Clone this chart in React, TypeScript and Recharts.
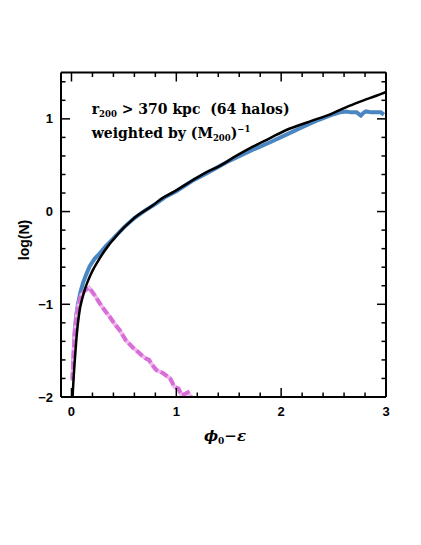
import React from "react";
import { ComposedChart, Line, XAxis, YAxis } from "recharts";

// fitted curve (black)
const fitX = [0.01, 0.02, 0.03, 0.045, 0.06, 0.08, 0.1, 0.13, 0.16, 0.2, 0.25, 0.3, 0.35, 0.4, 0.46, 0.54, 0.62, 0.7, 0.78, 0.86, 0.94, 1.03, 1.16, 1.28, 1.41, 1.57, 1.73, 1.89, 2.05, 2.27, 2.49, 2.65, 2.81, 2.98, 3.0];
const fitY = [-2.0, -1.8, -1.63, -1.4, -1.22, -1.05, -0.95, -0.83, -0.74, -0.64, -0.54, -0.45, -0.37, -0.3, -0.22, -0.13, -0.05, 0.01, 0.07, 0.14, 0.19, 0.25, 0.34, 0.42, 0.49, 0.6, 0.7, 0.79, 0.88, 0.97, 1.06, 1.14, 1.21, 1.28, 1.29];

// all halos (blue)
const allX = [0.01, 0.02, 0.03, 0.045, 0.063, 0.085, 0.11, 0.14, 0.174, 0.22, 0.27, 0.33, 0.4, 0.5, 0.6, 0.7, 0.8, 0.9, 1.0, 1.15, 1.3, 1.51, 1.73, 1.9, 2.05, 2.2, 2.36, 2.5, 2.56, 2.62, 2.67, 2.72, 2.76, 2.79, 2.81, 2.86, 2.91, 2.95, 2.98];
const allY = [-1.8, -1.55, -1.3, -1.12, -0.99, -0.87, -0.77, -0.68, -0.59, -0.51, -0.45, -0.37, -0.29, -0.17, -0.07, 0.01, 0.08, 0.16, 0.22, 0.33, 0.42, 0.55, 0.667, 0.75, 0.83, 0.91, 0.99, 1.05, 1.07, 1.08, 1.07, 1.07, 1.035, 1.07, 1.08, 1.07, 1.07, 1.07, 1.045];

// subset (magenta, dashed)
const subX = [0.01, 0.02, 0.03, 0.045, 0.063, 0.08, 0.095, 0.13, 0.168, 0.22, 0.27, 0.32, 0.365, 0.41, 0.46, 0.52, 0.58, 0.63, 0.68, 0.71, 0.74, 0.76, 0.81, 0.87, 0.94, 0.96, 0.98, 1.02, 1.05, 1.08, 1.11, 1.14];
const subY = [-1.82, -1.55, -1.35, -1.15, -1.03, -0.95, -0.9, -0.85, -0.82, -0.9, -0.99, -1.07, -1.135, -1.21, -1.28, -1.39, -1.46, -1.51, -1.56, -1.585, -1.6, -1.64, -1.71, -1.74, -1.8, -1.84, -1.89, -1.91, -1.98, -1.97, -1.95, -2.0];

const xTicks = [0, 0.2, 0.4, 0.6, 0.8, 1, 1.2, 1.4, 1.6, 1.8, 2, 2.2, 2.4, 2.6, 2.8, 3];
const yTicks = [-2, -1.8, -1.6, -1.4, -1.2, -1, -0.8, -0.6, -0.4, -0.2, 0, 0.2, 0.4, 0.6, 0.8, 1, 1.2, 1.4];

const zip = (xs: number[], ys: number[]) => xs.map((x, i) => ({ x, y: ys[i] }));
const fitData = zip(fitX, fitY);
const allData = zip(allX, allY);
const subData = zip(subX, subY);

const labelFont = "'Liberation Sans', Arial, sans-serif";
const serif = "'DejaVu Serif', serif";

const isMajor = (v: number) => Math.abs(v - Math.round(v)) < 1e-6;
const fmt = (v: number) => (v < 0 ? "\u2212" + Math.abs(Math.round(v)) : String(Math.round(v)));

const makeTick = (side: string) => (props: any) => {
  const { x, y, payload } = props;
  const v = payload.value;
  const len = isMajor(v) ? 9 : 4.5;
  let line;
  if (side === "bottom") line = <line x1={x} x2={x} y1={y} y2={y - len} stroke="#000" strokeWidth={1.5} />;
  else if (side === "top") line = <line x1={x} x2={x} y1={y} y2={y + len} stroke="#000" strokeWidth={1.5} />;
  else if (side === "left") line = <line x1={x} x2={x + len} y1={y} y2={y} stroke="#000" strokeWidth={1.5} />;
  else line = <line x1={x} x2={x - len} y1={y} y2={y} stroke="#000" strokeWidth={1.5} />;
  let label = null;
  if (isMajor(v) && side === "bottom") {
    label = (
      <text x={x} y={y + 19} textAnchor="middle" fontFamily={labelFont} fontWeight="bold" fontSize={13} fill="#000">
        {fmt(v)}
      </text>
    );
  }
  if (isMajor(v) && side === "left") {
    label = (
      <text x={x - 8} y={y + 4.5} textAnchor="end" fontFamily={labelFont} fontWeight="bold" fontSize={13} fill="#000">
        {fmt(v)}
      </text>
    );
  }
  return (
    <g>
      {line}
      {label}
    </g>
  );
};

export default function App() {
  return (
    <div style={{ position: "relative", width: 413, height: 537 }}>
      <ComposedChart width={413} height={537} margin={{ top: 63.5, right: 34, bottom: 118, left: 23 }}>
        <XAxis xAxisId="b" type="number" dataKey="x" domain={[-0.1, 3]} allowDataOverflow ticks={xTicks} interval={0}
          orientation="bottom" height={30} tickSize={0} tickMargin={0} tickLine={false}
          axisLine={{ stroke: "#000", strokeWidth: 2 }} tick={makeTick("bottom")} />
        <XAxis xAxisId="t" type="number" dataKey="x" domain={[-0.1, 3]} allowDataOverflow ticks={xTicks} interval={0}
          orientation="top" height={1} tickSize={0} tickMargin={0} tickLine={false}
          axisLine={{ stroke: "#000", strokeWidth: 2 }} tick={makeTick("top")} />
        <YAxis yAxisId="l" type="number" dataKey="y" domain={[-2, 1.5]} allowDataOverflow ticks={yTicks} interval={0}
          orientation="left" width={30} tickSize={0} tickMargin={0} tickLine={false}
          axisLine={{ stroke: "#000", strokeWidth: 2 }} tick={makeTick("left")} />
        <YAxis yAxisId="r" type="number" dataKey="y" domain={[-2, 1.5]} allowDataOverflow ticks={yTicks} interval={0}
          orientation="right" width={1} tickSize={0} tickMargin={0} tickLine={false}
          axisLine={{ stroke: "#000", strokeWidth: 2 }} tick={makeTick("right")} />
        <Line xAxisId="b" yAxisId="l" data={allData} dataKey="y" type="linear" stroke="#4a86c2" strokeWidth={4}
          dot={false} isAnimationActive={false} />
        <Line xAxisId="t" yAxisId="r" data={subData} dataKey="y" type="linear" stroke="#efb8ef" strokeWidth={4}
          dot={false} isAnimationActive={false} />
        <Line xAxisId="b" yAxisId="l" data={subData} dataKey="y" type="linear" stroke="#d86ed8" strokeWidth={4}
          strokeDasharray="8 3" dot={false} isAnimationActive={false} />
        <Line xAxisId="b" yAxisId="l" data={fitData} dataKey="y" type="monotone" stroke="#000" strokeWidth={2.5}
          dot={false} isAnimationActive={false} />
      </ComposedChart>
      <svg width={413} height={537} style={{ position: "absolute", left: 0, top: 0, pointerEvents: "none" }}>
        <text x={83.7} y={106} fontFamily={serif} fontWeight="bold" fontSize={14} fill="#000" style={{ whiteSpace: "pre" }}>
          <tspan>r</tspan>
          <tspan fontSize={8.5} dy={3}>200</tspan>
          <tspan dy={-3}>{" > 370 kpc  (64 halos)"}</tspan>
        </text>
        <text x={83.7} y={130} fontFamily={serif} fontWeight="bold" fontSize={14} fill="#000" style={{ whiteSpace: "pre" }}>
          <tspan>{"weighted by (M"}</tspan>
          <tspan fontSize={8.5} dy={3}>200</tspan>
          <tspan dy={-3}>)</tspan>
          <tspan fontSize={8.5} dy={-6}>{"\u22121"}</tspan>
        </text>
        <text x={16} y={232} transform="rotate(-90 16 232)" textAnchor="middle" dominantBaseline="central"
          fontFamily={labelFont} fontWeight="bold" fontSize={14} fill="#000">
          log(N)
        </text>
        <text x={217} y={433} textAnchor="middle" fontFamily={serif} fontWeight="bold" fontSize={15} fill="#000">
          <tspan fontStyle="italic">{"\u03d5"}</tspan>
          <tspan fontSize={9} dy={3}>0</tspan>
          <tspan dy={-3}>{"\u2212"}</tspan>
          <tspan fontStyle="italic">{"\u03b5"}</tspan>
        </text>
      </svg>
    </div>
  );
}
